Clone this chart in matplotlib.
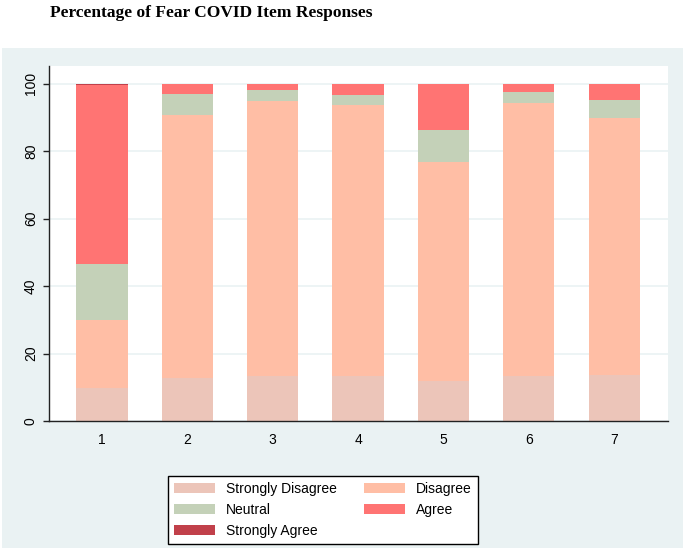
import matplotlib.pyplot as plt
import matplotlib.patches as mpatches
import numpy as np

plt.rcParams['font.family'] = ['Liberation Sans', 'DejaVu Sans']

items = ['1', '2', '3', '4', '5', '6', '7']
strongly_disagree = [9.9, 12.7, 13.4, 13.4, 11.9, 13.4, 13.7]
disagree = [20.0, 78.0, 81.4, 80.1, 64.9, 80.8, 76.2]
neutral = [16.6, 6.2, 3.3, 3.1, 9.5, 3.3, 5.3]
agree = [53.1, 3.1, 1.9, 3.4, 13.7, 2.5, 4.8]
strongly_agree = [0.4, 0, 0, 0, 0, 0, 0]

series = [('Strongly Disagree', strongly_disagree, '#ecc5b9'),
          ('Disagree', disagree, '#ffbea5'),
          ('Neutral', neutral, '#c4d1b8'),
          ('Agree', agree, '#ff7473'),
          ('Strongly Agree', strongly_agree, '#c1404a')]

fig = plt.figure(figsize=(6.88, 5.48), dpi=100)
fig.patch.set_facecolor('white')
# light blue background panel under the title
bg = mpatches.Rectangle((2/688, 0), 681/688, 500/548, transform=fig.transFigure,
                        facecolor='#eaf2f3', edgecolor='none', zorder=-10)
fig.add_artist(bg)

ax = fig.add_axes([49/688, 127/548, 619/688, 355/548])
ax.set_facecolor('white')

x = np.arange(1, len(items) + 1)
bottom = np.zeros(len(items))
handles = {}
for name, vals, col in series:
    vals = np.array(vals)
    b = ax.bar(x, vals, width=0.6, bottom=bottom, color=col, label=name, zorder=2)
    handles[name] = b
    bottom += vals

ax.set_xlim(0.38, 7.63)
ax.set_ylim(0, 105.2)
ax.set_xticks(x)
ax.set_xticklabels(items, fontsize=10)
ax.set_yticks([0, 20, 40, 60, 80, 100])
ax.set_yticklabels(['0', '20', '40', '60', '80', '100'], fontsize=10, rotation=90, va='center')
ax.yaxis.grid(True, color='#eaf2f3', linewidth=1.2, zorder=1)
ax.tick_params(axis='x', length=0, pad=9)
ax.tick_params(axis='y', length=4, width=1, color='#222222', pad=4)
for s in ['top', 'right']:
    ax.spines[s].set_visible(False)
for s in ['left', 'bottom']:
    ax.spines[s].set_color('#222222')
    ax.spines[s].set_linewidth(1.0)

fig.text(50/688, 1 - 13/548, 'Percentage of Fear COVID Item Responses',
         family='Liberation Serif', fontweight='bold', fontsize=12.5, va='center', ha='left')

order = ['Strongly Disagree', 'Neutral', 'Strongly Agree', 'Disagree', 'Agree']
leg = fig.legend([handles[n] for n in order], order, ncol=2,
                 loc='lower left', bbox_to_anchor=(168/688, 4/548),
                 bbox_transform=fig.transFigure, fontsize=10, borderaxespad=0,
                 fancybox=False, framealpha=1, edgecolor='black',
                 handlelength=2.9, handleheight=0.7, handletextpad=0.8,
                 columnspacing=2.0, labelspacing=0.5, borderpad=0.45)
leg.get_frame().set_linewidth(1.0)

fig.savefig('out.png', dpi=100)
